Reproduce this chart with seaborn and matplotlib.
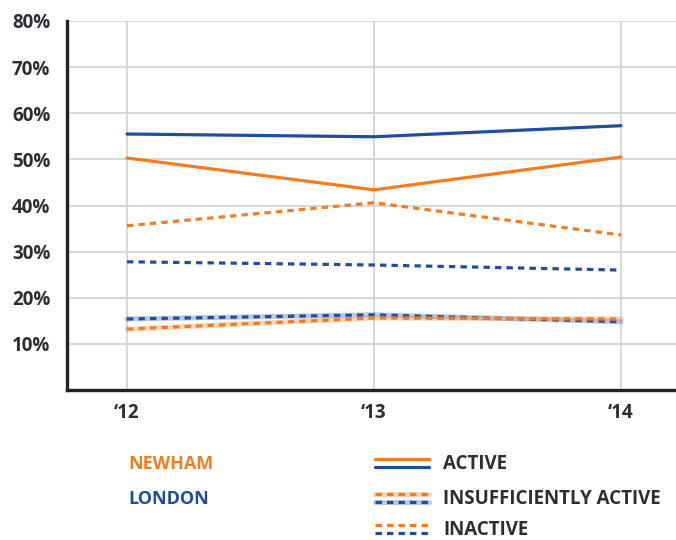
import pandas as pd
import matplotlib
matplotlib.use("Agg")
import matplotlib.pyplot as plt
from matplotlib.lines import Line2D
import seaborn as sns

# Datos (porcentajes)
years = [2012, 2013, 2014]
year_labels = ["\u201812", "\u201813", "\u201814"]
newham_active = [50.3, 43.4, 50.5]
newham_insufficient = [13.2, 15.6, 15.4]
newham_inactive = [35.6, 40.6, 33.6]
london_active = [55.5, 54.9, 57.3]
london_insufficient = [15.4, 16.3, 14.8]
london_inactive = [27.8, 27.1, 26.0]

ORANGE = "#F47B20"
BLUE = "#1F4EA0"
TEXT = "#2b2f33"
GRID = "#d4d4d4"

rows = []
for area, act, ins, ina in [("NEWHAM", newham_active, newham_insufficient, newham_inactive),
                            ("LONDON", london_active, london_insufficient, london_inactive)]:
    for y, a, s, i in zip(years, act, ins, ina):
        rows.append({"area": area, "measure": "ACTIVE", "year": y, "value": a})
        rows.append({"area": area, "measure": "INSUFFICIENTLY ACTIVE", "year": y, "value": s})
        rows.append({"area": area, "measure": "INACTIVE", "year": y, "value": i})
df = pd.DataFrame(rows)

sns.set_style("white")
plt.rcParams["font.family"] = ["Open Sans", "DejaVu Sans"]

fig = plt.figure(figsize=(6.76, 5.4), dpi=100)
ax = fig.add_axes([67 / 676, 150 / 540, 609 / 676, 369 / 540])

colors = {"NEWHAM": ORANGE, "LONDON": BLUE}
dash = (0, (2.0, 1.6))
lw = 2.3
halo_lw = 3.6
halo_alpha = 0.3

for area in ["LONDON", "NEWHAM"]:
    c = colors[area]
    sub = df[df.area == area]
    d = sub[sub.measure == "INSUFFICIENTLY ACTIVE"]
    sns.lineplot(data=d, x="year", y="value", color=c, lw=halo_lw, alpha=halo_alpha, ax=ax)
    sns.lineplot(data=d, x="year", y="value", color=c, lw=lw, linestyle=dash, ax=ax)
    d = sub[sub.measure == "INACTIVE"]
    sns.lineplot(data=d, x="year", y="value", color=c, lw=lw, linestyle=dash, ax=ax)
    d = sub[sub.measure == "ACTIVE"]
    sns.lineplot(data=d, x="year", y="value", color=c, lw=lw, ax=ax)

ax.set_xlim(2012 - 60 / 247, 2014 + 55 / 247)
ax.set_ylim(0, 80)
ax.set_xticks(years)
ax.set_xticklabels(year_labels)
ax.set_yticks(range(10, 90, 10))
ax.set_yticklabels([f"{v}%" for v in range(10, 90, 10)])
ax.grid(True, color=GRID, lw=1.3)
ax.set_axisbelow(True)
ax.set_xlabel("")
ax.set_ylabel("")
for s in ["top", "right"]:
    ax.spines[s].set_visible(False)
for s in ["left", "bottom"]:
    ax.spines[s].set_color("#222222")
    ax.spines[s].set_linewidth(2.4)
ax.tick_params(axis="both", length=0, labelsize=13.5, labelcolor=TEXT)
ax.tick_params(axis="x", pad=9)
ax.tick_params(axis="y", pad=12)
for lab in ax.get_xticklabels() + ax.get_yticklabels():
    lab.set_fontweight("bold")

# Leyenda manual
def fx(px):
    return px / 676

def fy(py):
    return 1 - py / 540

fig.text(fx(128), fy(469), "NEWHAM", color=ORANGE, fontsize=13, fontweight="bold", va="baseline")
fig.text(fx(128), fy(504), "LONDON", color=BLUE, fontsize=13, fontweight="bold", va="baseline")

legend_rows = [("ACTIVE", 469, "-", False),
               ("INSUFFICIENTLY ACTIVE", 504, dash, True),
               ("INACTIVE", 535, dash, False)]
for label, base, ls, halo in legend_rows:
    py = base - 6
    for c, off in [(ORANGE, -4), (BLUE, 4)]:
        if halo:
            fig.add_artist(Line2D([fx(375), fx(429)], [fy(py + off)] * 2, color=c, lw=halo_lw,
                                  alpha=halo_alpha, transform=fig.transFigure))
        fig.add_artist(Line2D([fx(375), fx(429)], [fy(py + off)] * 2, color=c, lw=lw,
                              linestyle=ls, transform=fig.transFigure))
    fig.text(fx(443), fy(base), label, color=TEXT, fontsize=13.5, fontweight="bold", va="baseline")

fig.savefig("out.png", dpi=100)
